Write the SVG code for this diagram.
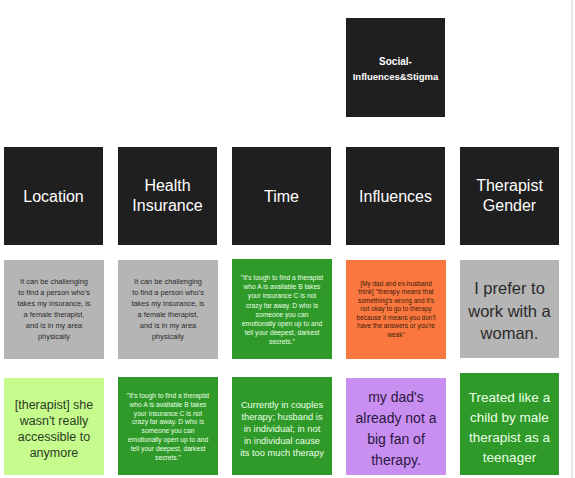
<svg xmlns="http://www.w3.org/2000/svg" width="575" height="478" viewBox="0 0 575 478">
<style>
text{font-family:"Liberation Sans",Arial,sans-serif;text-anchor:middle}
.hd{fill:#1f1f1f}
.ht{fill:#ffffff;font-size:16px}
.gray{fill:#b5b5b5}
.green{fill:#2f9a2a}
.orange{fill:#fa7840}
.lime{fill:#c6fb8e}
.purple{fill:#c88ff0}
.sm{font-size:7.4px;fill:#2a2a2a}
.tiny{font-size:6.7px;fill:#eaffe4}
.tinyo{font-size:6.5px;fill:#3a1a0a}
</style>
<rect x="0" y="0" width="575" height="478" fill="#ffffff"/>
<rect x="571" y="0" width="2" height="478" fill="#e8e8e8"/>
<g id="connectors"/>
<g id="social-influences-stigma">
<rect class="hd" x="346" y="18" width="99" height="99"/>
<text x="395.5" y="65" fill="#fff" font-size="10" font-weight="bold">Social-</text>
<text x="395.5" y="80" fill="#fff" font-size="9.5" font-weight="bold">Influences&amp;Stigma</text>
</g>
<g id="location">
<rect class="hd" x="4" y="147" width="99" height="98"/>
<text class="ht" x="53.5" y="201.5">Location</text>
</g>
<g id="health-insurance">
<rect class="hd" x="118" y="147" width="99" height="98"/>
<text class="ht" x="167.5" y="191">Health</text>
<text class="ht" x="167.5" y="211">Insurance</text>
</g>
<g id="time">
<rect class="hd" x="232" y="147" width="99" height="98"/>
<text class="ht" x="281.5" y="201.5">Time</text>
</g>
<g id="influences">
<rect class="hd" x="346" y="147" width="99" height="98"/>
<text class="ht" x="395.5" y="201.5">Influences</text>
</g>
<g id="therapist-gender">
<rect class="hd" x="460" y="147" width="99" height="98"/>
<text class="ht" x="509.5" y="191">Therapist</text>
<text class="ht" x="509.5" y="211">Gender</text>
</g>
<g id="note-location-1">
<rect class="gray" x="4" y="260" width="100" height="99"/>
<text class="sm" x="54" y="284">It can be challenging</text>
<text class="sm" x="54" y="295">to find a person who's</text>
<text class="sm" x="54" y="306">takes my insurance, is</text>
<text class="sm" x="54" y="317">a female therapist,</text>
<text class="sm" x="54" y="328">and is in my area</text>
<text class="sm" x="54" y="339">physically</text>
</g>
<g id="note-insurance-1">
<rect class="gray" x="118" y="260" width="100" height="99"/>
<text class="sm" x="168" y="284">It can be challenging</text>
<text class="sm" x="168" y="295">to find a person who's</text>
<text class="sm" x="168" y="306">takes my insurance, is</text>
<text class="sm" x="168" y="317">a female therapist,</text>
<text class="sm" x="168" y="328">and is in my area</text>
<text class="sm" x="168" y="339">physically</text>
</g>
<g id="note-time-1">
<rect class="green" x="232" y="259" width="100" height="100"/>
<text class="tiny" x="282" y="280">"It's tough to find a therapist</text>
<text class="tiny" x="282" y="289.2">who A is available B takes</text>
<text class="tiny" x="282" y="298.4">your insurance C is not</text>
<text class="tiny" x="282" y="307.6">crazy far away. D who is</text>
<text class="tiny" x="282" y="316.8">someone you can</text>
<text class="tiny" x="282" y="326">emotionally open up to and</text>
<text class="tiny" x="282" y="335.2">tell your deepest, darkest</text>
<text class="tiny" x="282" y="344.4">secrets."</text>
</g>
<g id="note-influences-1">
<rect class="orange" x="346" y="260" width="100" height="99"/>
<text class="tinyo" x="396" y="285.5">[My dad and ex-husband</text>
<text class="tinyo" x="396" y="294">think] "therapy means that</text>
<text class="tinyo" x="396" y="302.5">something's wrong and it's</text>
<text class="tinyo" x="396" y="311">not okay to go to therapy</text>
<text class="tinyo" x="396" y="319.5">because it means you don't</text>
<text class="tinyo" x="396" y="328">have the answers or you're</text>
<text class="tinyo" x="396" y="336.5">weak"</text>
</g>
<g id="note-gender-1">
<rect class="gray" x="460" y="260" width="99" height="98"/>
<text x="509.5" y="294" font-size="16.5" fill="#2a2a2a">I prefer to</text>
<text x="509.5" y="316.5" font-size="16.5" fill="#2a2a2a">work with a</text>
<text x="509.5" y="339" font-size="16.5" fill="#2a2a2a">woman.</text>
</g>
<g id="note-location-2">
<rect class="lime" x="4" y="378" width="100" height="97"/>
<text x="54" y="409" font-size="12.5" fill="#2b3a1e">[therapist] she</text>
<text x="54" y="425" font-size="12.5" fill="#2b3a1e">wasn't really</text>
<text x="54" y="441" font-size="12.5" fill="#2b3a1e">accessible to</text>
<text x="54" y="457" font-size="12.5" fill="#2b3a1e">anymore</text>
</g>
<g id="note-insurance-2">
<rect class="green" x="118" y="377" width="100" height="98"/>
<text class="tiny" x="168" y="398">"It's tough to find a therapist</text>
<text class="tiny" x="168" y="406.8">who A is available B takes</text>
<text class="tiny" x="168" y="415.6">your insurance C is not</text>
<text class="tiny" x="168" y="424.4">crazy far away. D who is</text>
<text class="tiny" x="168" y="433.2">someone you can</text>
<text class="tiny" x="168" y="442">emotionally open up to and</text>
<text class="tiny" x="168" y="450.8">tell your deepest, darkest</text>
<text class="tiny" x="168" y="459.6">secrets."</text>
</g>
<g id="note-time-2">
<rect class="green" x="232" y="377" width="100" height="98"/>
<text x="282" y="408" font-size="9.3" fill="#eaffe4">Currently in couples</text>
<text x="282" y="420" font-size="9.3" fill="#eaffe4">therapy; husband is</text>
<text x="282" y="432" font-size="9.3" fill="#eaffe4">in individual; in not</text>
<text x="282" y="444" font-size="9.3" fill="#eaffe4">in individual cause</text>
<text x="282" y="456" font-size="9.3" fill="#eaffe4">its too much therapy</text>
</g>
<g id="note-influences-2">
<rect class="purple" x="346" y="378" width="100" height="97"/>
<text x="396" y="402" font-size="14" fill="#2a1840">my dad's</text>
<text x="396" y="423" font-size="14" fill="#2a1840">already not a</text>
<text x="396" y="444" font-size="14" fill="#2a1840">big fan of</text>
<text x="396" y="465" font-size="14" fill="#2a1840">therapy.</text>
</g>
<g id="note-gender-2">
<rect class="green" x="460" y="373" width="99" height="102"/>
<text x="509.5" y="402" font-size="13.5" fill="#eaffe4">Treated like a</text>
<text x="509.5" y="422" font-size="13.5" fill="#eaffe4">child by male</text>
<text x="509.5" y="442" font-size="13.5" fill="#eaffe4">therapist as a</text>
<text x="509.5" y="462" font-size="13.5" fill="#eaffe4">teenager</text>
</g>
</svg>
